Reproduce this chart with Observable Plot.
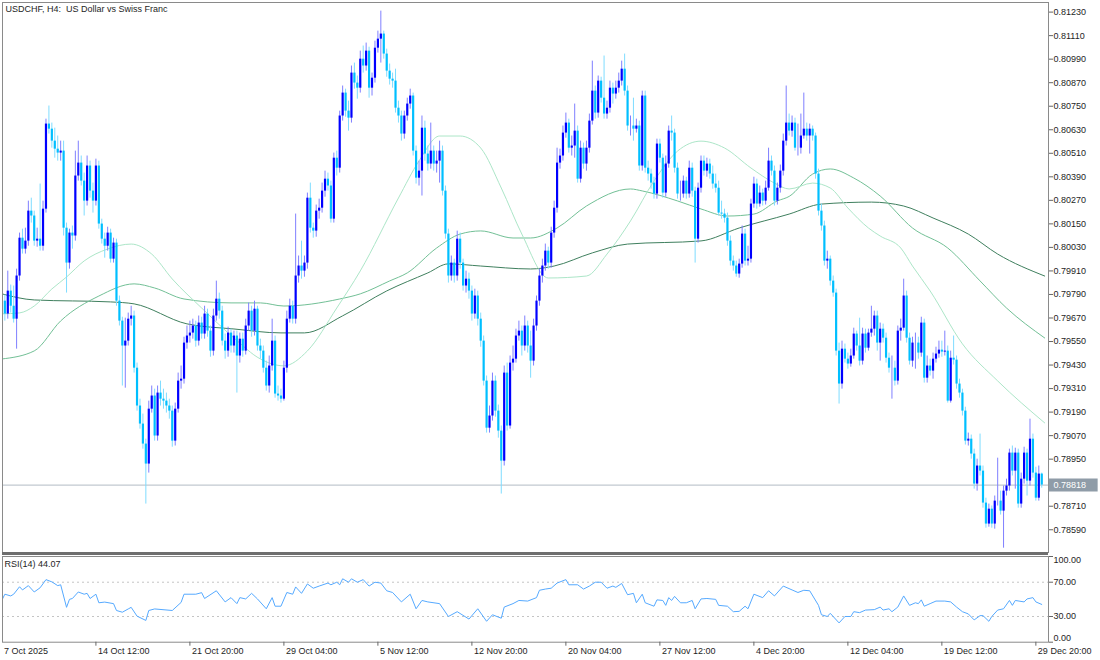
<!DOCTYPE html>
<html><head><meta charset="utf-8">
<script src="https://cdn.jsdelivr.net/npm/d3@7"></script>
<script src="https://cdn.jsdelivr.net/npm/@observablehq/plot@0.6"></script>
<style>
body{margin:0;background:#fff;}
#wrap{position:relative;width:1100px;height:660px;overflow:hidden;background:#fff;}
#main{position:absolute;left:0;top:0;}
#rsi{position:absolute;left:0;top:553px;}
#sep{position:absolute;left:2px;top:552px;width:1046px;height:3px;background:#6e6e6e;}
svg text{white-space:pre;}
</style></head><body>
<div id="wrap"><div id="main"></div><div id="rsi"></div><div id="sep"></div></div>
<script>
// ---- data (prices in 1e-5 units) ----
const title = "USDCHF, H4:\u00a0 US Dollar vs Swiss Franc";
const firstOpen = 79491;
const closes = [
79756,79690,79807,79730,79664,79884,80077,80021,80062,80215,
80190,80062,80072,80036,80225,80659,80633,80572,80531,80511,
80521,80128,79950,80103,80088,80394,80460,80368,80266,80445,
80317,80266,80445,80149,80072,80036,80103,79970,80052,79756,
79654,79527,79552,79664,79680,79414,79221,79129,79027,78925,
79205,79272,79068,79287,79256,79246,79221,79195,79042,79205,
79348,79358,79542,79578,79593,79629,79552,79644,79588,79690,
79603,79501,79680,79766,79705,79552,79501,79593,79527,79578,
79476,79562,79501,79629,79705,79603,79715,79527,79501,79414,
79323,79425,79552,79282,79272,79256,79414,79664,79730,79664,
79884,79935,79909,79950,80281,80128,80113,80215,80230,80317,
80378,80343,80174,80485,80434,80700,80817,80725,80689,80919,
80868,80842,80990,80955,81031,80842,80893,81046,81092,81118,
81016,80929,80888,80878,80740,80700,80608,80700,80761,80802,
80521,80383,80419,80638,80506,80455,80521,80455,80470,80521,
80317,80098,79884,79950,79884,80072,79950,79833,79868,79807,
79690,79782,79664,79552,79348,79108,79170,79348,79195,79093,
78940,79389,79119,79440,79460,79578,79603,79527,79629,79527,
79450,79629,79756,79884,79935,80011,79950,80103,80230,80460,
80496,80613,80664,80536,80547,80623,80378,80536,80455,80536,
80674,80827,80715,80878,80791,80710,80740,80842,80812,80842,
80878,80939,80827,80649,80649,80633,80649,80445,80802,80434,
80404,80358,80302,80557,80485,80307,80455,80623,80613,80434,
80302,80302,80368,80302,80434,80317,80072,80332,80470,80419,
80455,80404,80353,80332,80205,80200,80179,80062,79960,79935,
79894,79945,80098,79960,79970,80251,80353,80251,80307,80266,
80332,80470,80419,80266,80332,80419,80572,80664,80623,80664,
80536,80536,80598,80633,80598,80633,80598,80404,80215,80139,
79960,79970,79858,79797,79501,79333,79511,79460,79435,79476,
79588,79527,79450,79588,79516,79593,79613,79680,79542,79613,
79567,79465,79414,79414,79348,79603,79618,79782,79567,79450,
79542,79542,79491,79644,79363,79425,79399,79460,79486,79506,
79496,79501,79246,79465,79455,79333,79287,79195,79042,79052,
78976,78823,78915,78889,78726,78619,78695,78619,78736,78736,
78685,78787,78813,78981,78889,78981,78721,78848,78981,78838,
79052,78879,78751,78874,78818];
const highs = [
79807,79787,79909,79838,79833,79919,80103,80123,80128,80266,
80281,80215,80128,80353,80266,80684,80751,80664,80638,80598,
80572,80572,80154,80123,80139,80521,80572,80496,80409,80496,
80470,80358,80480,80470,80174,80103,80133,80123,80077,80072,
79782,79674,79669,79695,79730,79705,79440,79256,79180,79052,
79246,79323,79307,79323,79348,79307,79287,79256,79221,79236,
79389,79425,79572,79629,79654,79664,79654,79680,79674,79730,
79715,79629,79715,79858,79797,79730,79588,79623,79613,79603,
79603,79593,79593,79664,79746,79730,79756,79730,79562,79527,
79450,79476,79664,79578,79323,79307,79450,79705,79766,79756,
80200,79986,80062,79986,80307,80358,80154,80246,80276,80358,
80419,80409,80368,80511,80521,80725,80853,80837,80776,80955,
80970,80904,81031,81057,81072,81051,80919,81082,81133,81235,
81133,81041,80965,80919,80939,80776,80725,80725,80791,80837,
80817,80547,80470,80700,80674,80547,80664,80547,80521,80572,
80547,80343,80123,79986,79970,80113,80103,79970,79909,79899,
79833,79817,79807,79695,79578,79374,79221,79389,79374,79226,
79119,79425,79440,79476,79527,79613,79654,79629,79680,79654,
79603,79664,79782,79919,79970,80047,80031,80133,80266,80536,
80531,80649,80715,80684,80598,80761,80649,80572,80562,80572,
80710,80980,80853,80904,80898,81006,80776,80878,80868,80878,
80919,80980,81016,80853,80700,80791,80684,80674,80827,80827,
80470,80429,80388,80582,80582,80506,80496,80649,80700,80633,
80460,80368,80394,80388,80470,80460,80337,80358,80496,80496,
80485,80480,80445,80404,80368,80266,80225,80205,80088,79986,
79960,79970,80139,80123,80036,80276,80388,80378,80343,80327,
80368,80536,80496,80445,80358,80450,80608,80853,80710,80700,
80689,80659,80710,80817,80664,80659,80649,80613,80429,80251,
80164,80011,79986,79884,79817,79542,79552,79537,79491,79511,
79618,79603,79669,79618,79613,79613,79730,79705,79705,79644,
79639,79593,79491,79476,79450,79629,79664,79868,79807,79593,
79572,79593,79572,79674,79664,79476,79460,79491,79521,79552,
79552,79603,79527,79501,79578,79476,79358,79307,79215,79083,
79073,79001,78950,79078,78915,78751,78721,78711,78762,78955,
78787,78813,78848,79001,79017,79006,79001,78879,79011,79001,
79154,79078,78909,78915,78879];
const lows = [
79470,79654,79664,79695,79644,79511,79858,79996,79996,80036,
80154,80036,80031,80011,80011,80205,80608,80536,80485,80470,
80470,80088,79797,79919,80021,80062,80368,80343,80190,80241,
80281,80205,80241,80123,80047,79975,80011,79950,79950,79730,
79629,79323,79312,79527,79629,79389,79195,79103,79001,78721,
78879,79185,79042,79042,79221,79205,79185,79154,79011,79017,
79185,79307,79333,79511,79542,79562,79521,79527,79562,79562,
79572,79470,79476,79654,79664,79527,79460,79470,79491,79491,
79287,79440,79470,79481,79603,79572,79578,79501,79460,79389,
79297,79287,79399,79261,79246,79236,79246,79389,79644,79639,
79639,79848,79868,79878,79919,80103,80077,80082,80174,80205,
80286,80317,80154,80154,80394,80409,80674,80694,80623,80664,
80837,80786,80817,80919,80929,80791,80802,80868,81021,80970,
80990,80898,80858,80842,80715,80664,80572,80582,80674,80735,
80496,80353,80343,80292,80470,80419,80429,80419,80409,80358,
80292,80072,79848,79858,79848,79858,79919,79807,79797,79766,
79654,79664,79629,79521,79323,79083,79083,79144,79164,79057,
78772,78915,79093,79103,79399,79440,79552,79476,79501,79491,
79363,79425,79603,79730,79848,79909,79919,79924,80077,80205,
80429,80470,80587,80511,80496,80485,80358,80358,80429,80419,
80511,80654,80684,80689,80766,80684,80684,80715,80761,80786,
80817,80853,80802,80623,80598,80572,80613,80419,80419,80409,
80368,80327,80276,80276,80460,80281,80286,80434,80572,80409,
80276,80266,80281,80276,80281,80286,79950,80052,80307,80394,
80388,80378,80327,80307,80190,80174,80154,80036,79935,79909,
79878,79873,79924,79935,79935,79950,80230,80225,80235,80241,
80246,80317,80394,80241,80246,80307,80394,80547,80598,80592,
80521,80496,80506,80582,80572,80506,80572,80378,80190,80113,
79935,79919,79833,79776,79476,79231,79307,79440,79409,79419,
79460,79501,79425,79430,79491,79501,79572,79578,79501,79450,
79542,79440,79389,79256,79323,79328,79552,79603,79542,79430,
79419,79409,79460,79470,79338,79338,79374,79358,79440,79465,
79470,79476,79236,79236,79430,79307,79261,79170,79022,79017,
78950,78797,78787,78864,78700,78598,78603,78598,78593,78711,
78665,78496,78762,78787,78864,78797,78700,78700,78823,78762,
78813,78853,78736,78736,78802];

// moving averages: [bar, price*1e5]
const maFast = [[0,79691],[6,79696],[11,79731],[17,79818],[22,79879],[28,79961],[36,80022],[44,80047],[51,79996],[58,79869],[68,79721],[79,79568],[88,79461],[96,79426],[104,79502],[114,79721],[122,79910],[135,80282],[142,80471],[149,80598],[156,80598],[163,80537],[170,80333],[177,80098],[186,79874],[199,79884],[206,79996],[214,80165],[222,80369],[230,80521],[238,80572],[246,80537],[255,80435],[263,80358],[268,80328],[276,80358],[282,80333],[288,80231],[295,80129],[299,80088],[306,80027],[310,79935],[316,79808],[327,79538],[339,79349],[355,79135]];
const maMid = [[0,79461],[11,79502],[20,79655],[33,79782],[45,79844],[52,79823],[62,79767],[78,79747],[88,79747],[96,79731],[115,79767],[122,79793],[132,79859],[138,79900],[148,80027],[156,80098],[163,80114],[174,80078],[180,80078],[189,80129],[199,80241],[214,80328],[218,80318],[230,80267],[238,80226],[247,80190],[256,80200],[264,80267],[268,80290],[276,80404],[282,80430],[290,80384],[299,80292],[310,80129],[322,80027],[333,79859],[342,79721],[355,79568]];
const maSlow = [[0,79793],[11,79762],[37,79752],[45,79742],[63,79640],[79,79614],[95,79594],[103,79594],[116,79681],[131,79808],[145,79900],[152,79946],[163,79935],[180,79920],[188,79935],[201,80002],[213,80047],[238,80063],[251,80129],[268,80200],[279,80251],[296,80261],[307,80241],[317,80180],[329,80098],[339,79996],[355,79884]];

// RSI(14): [bar, value]
const rsiPoints = [[0,49],[1,56],[3,54],[4,56],[6,64.7],[7,61],[9,66],[11,58.6],[13,63.5],[15,73],[17,70.4],[19,66],[20,67],[22,40.7],[23,50],[24,51],[26,58.6],[28,56],[29,57],[30,51],[32,56],[33,46],[35,46.8],[38,45],[39,37],[41,35],[43,38.8],[44,40.7],[46,30.4],[49,25.4],[50,37],[52,38.8],[58,37],[61,46.4],[62,56],[66,56],[68,57.8],[69,51],[73,60],[76,47],[78,52],[80,45],[81,52],[83,50.5],[85,57],[87,50.5],[90,39],[92,52],[93,42],[95,42],[97,58],[99,56],[100,64.5],[102,57],[104,68],[106,63],[108,65.5],[111,69],[112,67],[114,70],[115,67],[116,74],[118,70],[119,74],[121,70],[123,73],[125,65.5],[127,70],[129,69],[131,60],[133,58],[136,47],[139,56],[141,39],[143,48.7],[145,47],[149,45],[152,30],[155,35.6],[159,27],[162,39],[165,24.4],[167,32],[170,28],[171,41],[174,45],[176,48.7],[179,48],[182,52],[183,60.6],[185,62],[187,63],[189,69],[192,73],[193,67],[196,67],[198,62],[200,65.5],[202,70],[204,70],[206,63],[208,65.5],[209,64],[211,68.5],[213,55.4],[215,57],[216,46],[218,56],[219,46],[222,42],[223,49.4],[225,48.7],[226,43],[227,52],[228,48.7],[229,53.5],[231,46],[233,46],[235,48.7],[236,39],[238,50.5],[240,51],[243,50],[244,43],[247,42],[249,35.6],[251,36],[253,42],[254,39],[256,56],[259,52],[261,60],[263,54],[266,65.5],[269,61],[271,58],[273,60.6],[275,60],[278,43],[279,32],[281,30],[282,33.7],[285,22.5],[287,30],[289,30],[290,35.6],[292,34.5],[294,37.5],[297,38],[299,41],[300,37.5],[302,39],[303,35.6],[305,41],[307,54],[309,43],[311,46],[312,45],[313,49.4],[314,42],[316,45],[318,48],[321,48],[323,47],[325,41],[327,35.6],[329,33],[331,26],[333,31],[334,31],[336,24.4],[337,30],[339,37.5],[341,39],[343,48.7],[344,43],[345,48.7],[348,47],[349,50.5],[351,52],[352,47],[354,44.07]];
const rsiLevels = [70, 30];

const priceTicks = [0.81230,0.81110,0.80990,0.80870,0.80750,0.80630,0.80510,0.80390,0.80270,0.80150,0.80030,0.79910,0.79790,0.79670,0.79550,0.79430,0.79310,0.79190,0.79070,0.78950,0.78710,0.78590];
const timeTickBars = [0,32,64,96,128,160,192,224,256,288,320,352];
const timeTickLabels = ["7 Oct 2025","14 Oct 12:00","21 Oct 20:00","29 Oct 04:00","5 Nov 12:00","12 Nov 20:00","20 Nov 04:00","27 Nov 12:00","4 Dec 20:00","12 Dec 04:00","19 Dec 12:00","29 Dec 20:00"];

// ---- build ----
const UP = "#0000ff", DN = "#00bfff", UPW = "#7f7fff", DNW = "#7fdcff";
const bars = closes.map((c, i) => {
  const o = (i ? closes[i - 1] : firstOpen) / 1e5;
  const cc = c / 1e5;
  return {i, o, c: cc, h: highs[i] / 1e5, l: lows[i] / 1e5, up: cc >= o};
});
const lastPrice = closes[closes.length - 1] / 1e5;
const toMA = a => a.map(([b, v]) => ({b, v: v / 1e5}));
const rsi = rsiPoints.map(([b, v]) => ({b, v}));
const timeTicks = timeTickBars.map((b, k) => ({b, label: timeTickLabels[k]}));
const font = "'Liberation Sans', Arial, sans-serif";
const xDomain = [0.2, 356.3];

const main = Plot.plot({
  width: 1100, height: 553,
  marginLeft: 2, marginRight: 52, marginTop: 2, marginBottom: 1,
  x: {domain: xDomain, axis: null, label: null},
  y: {domain: [0.78474, 0.81279], axis: null, label: null},
  style: {fontFamily: font, fontSize: "9px", color: "#1e1e1e", background: "transparent", overflow: "visible"},
  marks: [
    Plot.ruleY([lastPrice], {stroke: "#c2c9d0", strokeWidth: 1.3}),
    Plot.line(toMA(maSlow), {x: "b", y: "v", stroke: "#3f7f5e", strokeWidth: 1, curve: "monotone-x", clip: true}),
    Plot.line(toMA(maMid), {x: "b", y: "v", stroke: "#72c096", strokeWidth: 1, curve: "monotone-x", clip: true}),
    Plot.line(toMA(maFast), {x: "b", y: "v", stroke: "#ace6c8", strokeWidth: 1, curve: "monotone-x", clip: true}),
    Plot.ruleX(bars, {x: "i", y1: "l", y2: "h", stroke: d => d.up ? UPW : DNW, strokeWidth: 1, clip: true}),
    Plot.ruleX(bars, {x: "i", y1: "o", y2: "c", stroke: d => d.up ? UP : DN, strokeWidth: 2.2, clip: true}),
    Plot.frame({stroke: "#8a8a8a"}),
    Plot.axisY(priceTicks, {anchor: "right", label: null, tickSize: 4, tickPadding: 1, tickFormat: d => d.toFixed(5), stroke: "#666", fill: "#1e1e1e"}),
    Plot.ruleY([lastPrice], {x1: 356.6, x2: 373.2, stroke: "#8f9ca8", strokeWidth: 13}),
    Plot.text([lastPrice], {y: d => d, text: d => d.toFixed(5), frameAnchor: "right", dx: 5, textAnchor: "start", fill: "#ffffff"}),
    Plot.text([title], {frameAnchor: "top-left", dx: 3, dy: 7, textAnchor: "start", lineAnchor: "middle", fill: "#1e1e1e", fontSize: 9})
  ]
});
document.getElementById("main").append(main);

const rsiChart = Plot.plot({
  width: 1100, height: 107,
  marginLeft: 2, marginRight: 52, marginTop: 3, marginBottom: 18.3,
  x: {domain: xDomain, axis: null, label: null},
  y: {domain: [0, 100], axis: null, label: null},
  style: {fontFamily: font, fontSize: "9px", color: "#1e1e1e", background: "transparent", overflow: "visible"},
  marks: [
    Plot.ruleY(rsiLevels, {stroke: "#c4c4c4", strokeDasharray: "2,3"}),
    Plot.line(rsi, {x: "b", y: "v", stroke: "#55a9ff", strokeWidth: 1, clip: true}),
    Plot.frame({stroke: "#8a8a8a"}),
    Plot.axisY([100, 70, 30, 0], {anchor: "right", label: null, tickSize: 4, tickFormat: () => "", stroke: "#666"}),
    Plot.text(rsiLevels, {y: d => d, text: d => d.toFixed(2), frameAnchor: "right", dx: 5, textAnchor: "start", fill: "#1e1e1e"}),
    Plot.text([100], {y: d => d, text: d => d.toFixed(2), frameAnchor: "right", dx: 5, dy: 4, textAnchor: "start", fill: "#1e1e1e"}),
    Plot.text([0], {y: d => d, text: d => d.toFixed(2), frameAnchor: "right", dx: 5, dy: -4, textAnchor: "start", fill: "#1e1e1e"}),
    Plot.axisX(timeTickBars.slice(1), {anchor: "bottom", label: null, tickSize: 4, tickFormat: () => "", stroke: "#666"}),
    Plot.text(timeTicks, {x: "b", text: "label", frameAnchor: "bottom", dy: 8.5, dx: 2, textAnchor: "start", lineAnchor: "middle", fill: "#1e1e1e"}),
    Plot.text([`RSI(14) ${rsiPoints[rsiPoints.length - 1][1].toFixed(2)}`], {frameAnchor: "top-left", dx: 2, dy: 8, textAnchor: "start", lineAnchor: "middle", fill: "#1e1e1e"})
  ]
});
document.getElementById("rsi").append(rsiChart);
</script>
</body></html>
